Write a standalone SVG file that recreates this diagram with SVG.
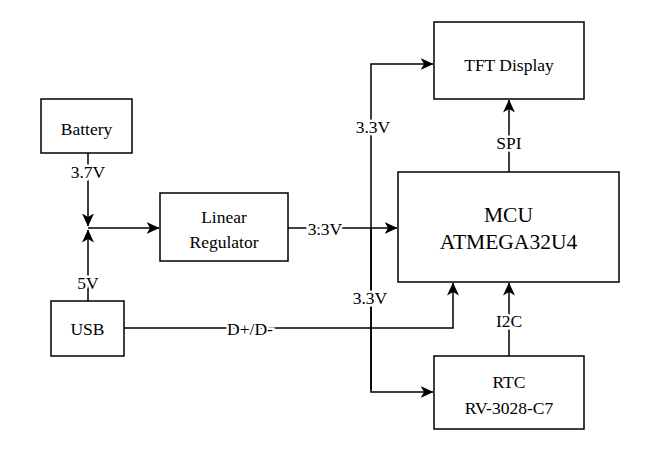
<svg xmlns="http://www.w3.org/2000/svg" width="657" height="466" viewBox="0 0 657 466">
<style>
.box{fill:#fff;stroke:#000;stroke-width:1.5}
.t{font-family:"Liberation Serif","Times New Roman",serif;font-size:17.5px;fill:#000;text-anchor:middle;dominant-baseline:central}
.big{font-size:21.5px}
.lbl{font-family:"Liberation Serif","Times New Roman",serif;font-size:17.5px;fill:#000;text-anchor:middle;dominant-baseline:central;stroke:#fff;stroke-width:5px;paint-order:stroke}
.c{fill:none;stroke:#000;stroke-width:1.5}
</style>
<defs>
<marker id="a" viewBox="0 0 13 12" refX="12.5" refY="6" markerWidth="13" markerHeight="12" markerUnits="userSpaceOnUse" orient="auto">
<path d="M0,0 L13,6 L0,12 L3.5,6 Z" fill="#000"/>
</marker>
</defs>
<rect width="657" height="466" fill="#fff"/>
<g id="connectors">
<path class="c" d="M88,153 V226" marker-end="url(#a)"/>
<path class="c" d="M88,301 V230" marker-end="url(#a)"/>
<path class="c" d="M88,228 H159" marker-end="url(#a)"/>
<path class="c" d="M288,228 H397" marker-end="url(#a)"/>
<path class="c" d="M371,390 V64 H433" marker-end="url(#a)"/>
<path class="c" d="M371,228 V392 H433" marker-end="url(#a)"/>
<path class="c" d="M124,328 H453 V283" marker-end="url(#a)"/>
<path class="c" d="M509,356 V283" marker-end="url(#a)"/>
<path class="c" d="M509,172 V100" marker-end="url(#a)"/>
<text class="lbl" x="88" y="172">3.7V</text>
<text class="lbl" x="88" y="283">5V</text>
<text class="lbl" x="325" y="229">3.3V</text>
<text class="lbl" x="373" y="127">3.3V</text>
<text class="lbl" x="370" y="298">3.3V</text>
<text class="lbl" x="250" y="329">D+/D-</text>
<text class="lbl" x="509" y="143">SPI</text>
<text class="lbl" x="509" y="321">I2C</text>
</g>
<g id="battery"><rect class="box" x="41" y="99" width="91" height="54"/><text class="t" x="86.5" y="129">Battery</text></g>
<g id="usb"><rect class="box" x="51" y="301" width="73" height="55"/><text class="t" x="87.5" y="329">USB</text></g>
<g id="regulator"><rect class="box" x="160" y="193" width="128" height="68"/><text class="t" x="224" y="217">Linear</text><text class="t" x="224" y="242">Regulator</text></g>
<g id="mcu"><rect class="box" x="398" y="172" width="221" height="110"/><text class="t big" x="508.5" y="215">MCU</text><text class="t big" x="508.5" y="242">ATMEGA32U4</text></g>
<g id="tft"><rect class="box" x="434" y="22" width="150" height="77"/><text class="t" x="509" y="65">TFT Display</text></g>
<g id="rtc"><rect class="box" x="434" y="356" width="150" height="73"/><text class="t" x="509" y="382">RTC</text><text class="t" x="509" y="408">RV-3028-C7</text></g>
</svg>
